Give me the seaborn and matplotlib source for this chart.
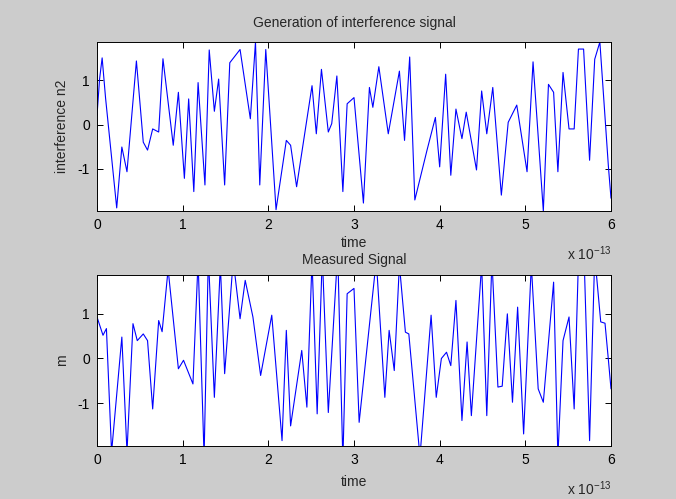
import matplotlib
matplotlib.use("Agg")
import matplotlib.pyplot as plt
import seaborn as sns
import numpy as np

# time in units of 1e-13 s
t_top = [0.00, 0.03, 0.06, 0.10, 0.23, 0.29, 0.35, 0.46, 0.54, 0.59, 0.65, 0.72, 0.77, 0.89, 0.95,
         1.02, 1.07, 1.13, 1.18, 1.26, 1.31, 1.37, 1.42, 1.49, 1.55, 1.67, 1.79, 1.85, 1.90, 1.97,
         2.09, 2.21, 2.26, 2.33, 2.51, 2.56, 2.62, 2.70, 2.74, 2.80, 2.87, 2.92, 3.00, 3.11, 3.18,
         3.22, 3.29, 3.40, 3.53, 3.59, 3.65, 3.71, 3.85, 3.95, 4.00, 4.07, 4.13, 4.19, 4.26, 4.31,
         4.43, 4.49, 4.55, 4.62, 4.72, 4.80, 4.90, 5.02, 5.09, 5.21, 5.27, 5.33, 5.38, 5.44, 5.51,
         5.57, 5.62, 5.68, 5.75, 5.81, 5.87, 5.97, 6.00]
n2_top = [0.2, 1.03, 1.51, 0.6, -1.89, -0.51, -1.07, 1.44, -0.40, -0.58, -0.10, -0.17, 1.49, -0.47, 0.73,
          -1.22, 0.58, -1.52, 0.95, -1.37, 1.69, 0.3, 1.03, -1.37, 1.40, 1.70, 0.13, 1.87, -1.37, 1.70,
          -1.93, -0.36, -0.47, -1.41, 0.88, -0.21, 1.25, -0.17, 0.02, 1.10, -1.52, 0.47, 0.61, -1.78, 0.84,
          0.39, 1.31, -0.21, 1.21, -0.36, 1.53, -1.71, -0.6, 0.16, -0.96, 1.14, -1.15, 0.35, -0.32, 0.28,
          -1.03, 0.76, -0.21, 0.84, -1.60, 0.05, 0.44, -1.07, 1.42, -1.96, 0.91, 0.73, -1.07, 1.18, -0.10,
          -0.10, 1.71, 1.71, -0.81, 1.48, 1.87, -0.96, -1.67]

t_bot = [0.00, 0.07, 0.11, 0.17, 0.29, 0.35, 0.42, 0.47, 0.54, 0.59, 0.65, 0.72, 0.76, 0.83, 0.95,
         1.01, 1.12, 1.18, 1.25, 1.30, 1.37, 1.44, 1.49, 1.59, 1.67, 1.73, 1.82, 1.91, 2.04, 2.16,
         2.21, 2.26, 2.39, 2.45, 2.51, 2.57, 2.63, 2.70, 2.81, 2.87, 2.92, 3.00, 3.06, 3.26, 3.36,
         3.41, 3.47, 3.53, 3.60, 3.64, 3.77, 3.90, 3.96, 4.02, 4.08, 4.13, 4.19, 4.26, 4.32, 4.37,
         4.49, 4.55, 4.61, 4.68, 4.73, 4.79, 4.85, 4.91, 4.98, 5.07, 5.15, 5.21, 5.33, 5.38, 5.44,
         5.51, 5.57, 5.62, 5.69, 5.75, 5.81, 5.88, 5.93, 5.97, 6.00]
m_bot = [0.93, 0.52, 0.67, -2.1, 0.48, -2.1, 0.78, 0.40, 0.55, 0.40, -1.13, 0.85, 0.6, 2.0, -0.23,
         -0.04, -0.57, 2.2, -2.2, 2.3, -0.87, 2.1, -0.34, 2.2, 0.89, 1.75, 0.93, -0.38, 0.97, -1.84,
         0.63, -1.51, 0.18, -1.09, 2.2, -1.24, 2.3, -1.21, 2.4, -2.3, 1.45, 1.57, -1.43, 2.2, -0.87,
         0.63, -0.27, 2.1, 0.59, 0.55, -2.2, 0.97, -0.87, 0.0, 0.14, -0.16, 1.30, -1.39, 0.37, -1.28,
         2.1, -1.28, 2.2, -0.64, -0.62, 1.0, -0.98, 1.15, -1.69, 2.1, -0.68, -0.98, 1.71, -2.2, 0.40,
         0.93, -1.13, 2.2, 2.0, -1.84, 2.3, 0.82, 0.79, -0.04, -0.68]

x_ticks = [0, 1, 2, 3, 4, 5, 6]
y_ticks = [-1, 0, 1]
y_limits = (-1.96, 1.87)

sns.set_style("white")
plt.rcParams['font.family'] = ['Liberation Sans', 'DejaVu Sans']
plt.rcParams['font.size'] = 10

fig = plt.figure(figsize=(6.76, 4.99), dpi=100, facecolor='#cccccc')
W, H = 676, 499
def rect(l, t, r, b):
    return [l / W, 1 - b / H, (r - l) / W, (b - t) / H]

ax1 = fig.add_axes(rect(97, 42, 611, 211))
ax2 = fig.add_axes(rect(97, 275, 611, 446))

panels = [(ax1, t_top, n2_top, "Generation of interference signal", "interference n2", 11, 3),
          (ax2, t_bot, m_bot, "Measured Signal", "m", 8, 6)]
for ax, t, y, title, ylab, tpad, xpad in panels:
    ax.set_facecolor('white')
    sns.lineplot(x=t, y=y, ax=ax, color='#0000ff', linewidth=0.8, estimator=None, sort=False)
    ax.set_xlim(0, 6)
    ax.set_ylim(*y_limits)
    ax.set_xticks(x_ticks)
    ax.set_xticklabels([str(v) for v in x_ticks])
    ax.set_yticks(y_ticks)
    ax.set_yticklabels([str(v) for v in y_ticks])
    ax.tick_params(direction='in', length=4, width=0.7, top=True, right=True,
                   bottom=True, left=True, labelsize=10, pad=5, colors='black')
    for s in ax.spines.values():
        s.set_visible(True)
        s.set_color('black')
        s.set_linewidth(0.7)
    ax.set_title(title, fontsize=10, pad=tpad)
    ax.set_xlabel("time", fontsize=10, labelpad=xpad)
    ax.set_ylabel(ylab, fontsize=10, labelpad=6)
    ax.text(1.0, -0.25, r"x 10$^{\mathregular{-13}}$", transform=ax.transAxes,
            ha='right', va='center', fontsize=10)

fig.savefig("out.png", dpi=100, facecolor=fig.get_facecolor())
